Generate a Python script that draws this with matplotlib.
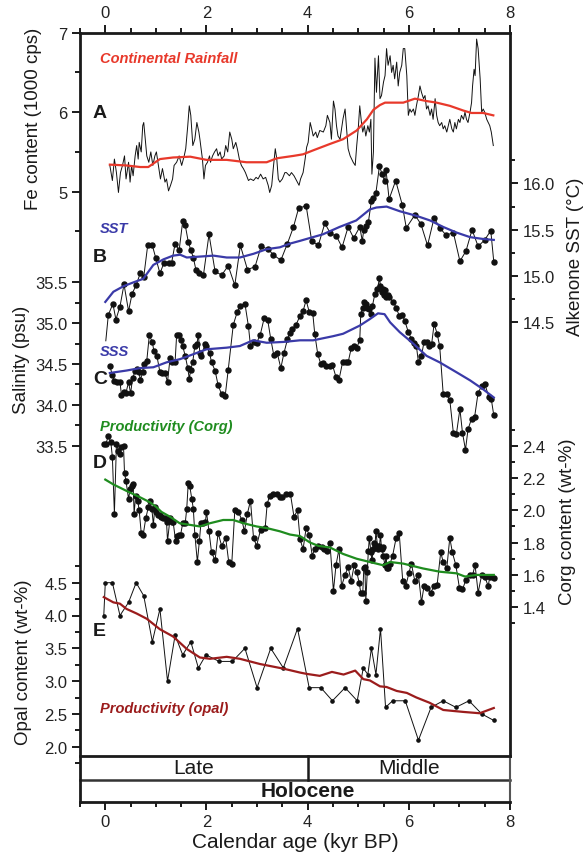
import numpy as np
import matplotlib
matplotlib.use("Agg")
import matplotlib.pyplot as plt
from matplotlib.ticker import FixedLocator, FormatStrFormatter

plt.rcParams['font.family'] = ['Liberation Sans', 'DejaVu Sans']

# ---------------- data ----------------
fe_age = [0.09,0.14,0.18,0.22,0.26,0.30,0.34,0.38,0.41,0.46,0.49,0.52,0.55,0.59,0.62,0.65,0.67,0.71,0.74,0.76,
          0.79,0.82,0.86,0.90,0.94,0.98,1.01,1.05,1.09,1.13,1.18,1.21,1.25,1.29,1.33,1.36,1.41,1.46,1.51,1.56,
          1.59,1.63,1.66,1.69,1.73,1.77,1.81,1.85,1.87,1.92,1.95,1.98,2.02,2.06,2.08,2.12,2.16,2.20,2.23,2.27,
          2.30,2.35,2.38,2.42,2.46,2.50,2.53,2.58,2.61,2.65,2.69,2.73,2.77,2.83,2.87,2.93,2.98,3.02,3.07,3.12,
          3.17,3.22,3.25,3.29,3.32,3.36,3.39,3.42,3.45,3.50,3.55,3.58,3.64,3.68,3.73,3.78,3.83,3.86,3.91,3.95,
          3.98,4.01,4.05,4.08,4.11,4.16,4.19,4.24,4.31,4.36,4.39,4.44,4.47,4.51,4.54,4.57,4.60,4.64,4.67,4.70,
          4.74,4.77,4.80,4.84,4.87,4.90,4.94,4.97,5.00,5.03,5.07,5.09,5.12,5.15,5.19,5.22,5.25,5.27,5.30,5.33,
          5.36,5.40,5.43,5.46,5.50,5.53,5.56,5.59,5.63,5.66,5.69,5.72,5.76,5.79,5.82,5.86,5.89,5.92,5.96,5.99,
          6.02,6.05,6.09,6.12,6.15,6.19,6.22,6.25,6.29,6.32,6.35,6.38,6.42,6.45,6.48,6.52,6.55,6.58,6.61,6.65,
          6.68,6.71,6.75,6.78,6.81,6.85,6.88,6.91,6.94,6.98,7.01,7.04,7.08,7.11,7.14,7.17,7.21,7.24,7.26,7.29,
          7.31,7.34,7.37,7.41,7.44,7.47,7.50,7.54,7.57,7.60,7.63,7.67]
fe_val = [5.33,5.14,5.41,5.24,4.99,5.24,5.33,5.45,5.16,5.37,5.12,5.33,5.20,5.45,5.58,5.41,5.62,5.50,5.83,5.87,
          5.66,5.45,5.37,5.50,5.33,5.45,5.50,5.33,5.16,5.29,5.12,5.16,5.01,5.08,5.16,5.33,5.37,5.45,5.33,5.45,
          5.54,5.83,6.08,5.96,5.58,5.66,5.87,5.75,5.66,5.41,5.16,5.33,5.37,5.45,5.37,5.45,5.50,5.54,5.45,5.50,
          5.41,5.45,5.58,5.50,5.75,5.66,5.54,5.62,5.54,5.41,5.33,5.29,5.24,5.14,5.16,5.14,5.18,5.16,5.22,5.16,
          5.18,5.08,4.99,5.08,5.29,5.54,5.41,5.16,5.12,5.16,5.24,5.24,5.20,5.24,5.20,5.14,5.08,5.16,5.24,5.41,
          5.56,5.62,5.87,5.79,5.70,5.75,5.68,5.77,5.75,5.83,5.96,5.87,5.66,6.14,6.04,5.83,5.70,5.66,5.79,5.92,
          6.04,5.79,5.54,5.45,5.41,5.37,5.33,5.58,5.79,6.08,5.83,5.75,5.83,5.70,5.83,5.75,5.91,5.22,5.50,6.68,
          6.25,6.71,6.17,6.21,6.38,6.46,6.80,6.59,6.71,6.50,6.59,6.42,6.63,6.33,6.50,6.59,6.80,6.80,6.46,5.96,
          6.04,6.00,6.04,5.96,6.08,6.21,6.33,6.25,6.17,6.21,6.04,6.08,5.96,6.04,5.91,6.17,5.96,5.87,5.83,5.87,
          5.79,5.83,5.75,5.83,5.91,5.79,5.75,5.87,5.79,5.91,5.87,5.96,5.91,6.00,5.91,5.87,6.00,6.12,6.33,6.54,
          6.46,6.92,6.80,6.42,6.00,6.04,6.00,5.91,5.87,5.83,5.75,5.58]

rain_age = [0.09,0.41,0.69,0.85,1.08,1.34,1.68,2.00,2.40,2.79,3.19,3.39,3.72,3.91,4.11,4.44,4.70,4.97,5.17,
            5.30,5.43,5.53,5.89,6.12,6.35,6.55,6.81,7.08,7.24,7.47,7.67]
rain_val = [5.34,5.33,5.31,5.31,5.41,5.43,5.44,5.40,5.40,5.37,5.37,5.42,5.45,5.47,5.52,5.60,5.66,5.77,5.91,
            6.03,6.09,6.12,6.12,6.17,6.14,6.12,6.08,6.02,5.99,5.99,5.96]

sst_age = [0.01,0.06,0.15,0.21,0.29,0.37,0.46,0.53,0.61,0.69,0.76,0.84,0.93,1.00,1.08,1.16,1.25,1.31,1.38,1.46,
           1.53,1.58,1.64,1.69,1.74,1.79,1.86,1.94,2.05,2.17,2.30,2.43,2.56,2.67,2.81,2.96,3.08,3.22,3.32,3.47,
           3.60,3.72,3.82,3.97,4.08,4.21,4.34,4.45,4.57,4.68,4.80,4.91,5.03,5.08,5.11,5.16,5.20,5.26,5.30,5.35,
           5.42,5.47,5.52,5.55,5.61,5.74,5.87,5.95,6.12,6.24,6.37,6.50,6.61,6.74,6.88,7.01,7.13,7.25,7.37,7.50,
           7.62,7.68]
sst_val = [14.30,14.58,14.70,14.53,14.67,14.91,14.62,14.81,14.90,15.03,14.99,15.34,15.33,15.19,15.03,15.14,15.14,15.14,15.35,15.28,
           15.59,15.55,15.37,15.28,15.20,15.07,15.03,15.01,15.45,15.05,15.01,15.11,14.90,15.33,15.07,15.10,15.32,15.29,15.23,15.17,
           15.35,15.53,15.73,15.76,15.38,15.33,15.57,15.46,15.43,15.31,15.53,15.41,15.53,15.38,15.50,15.54,15.58,15.81,15.84,15.90,
           16.19,16.10,16.03,16.14,15.83,16.03,15.77,15.52,15.66,15.56,15.33,15.63,15.52,15.44,15.47,15.16,15.27,15.50,15.32,15.39,
           15.49,15.15]

sst_s_age = [0.00,0.16,0.36,0.55,0.75,0.95,1.15,1.34,1.48,1.61,1.87,2.14,2.40,2.66,2.93,3.19,3.45,3.65,3.85,4.04,
             4.30,4.63,4.96,5.23,5.36,5.56,5.82,6.15,6.42,6.68,6.94,7.21,7.47,7.68]
sst_s_val = [14.72,14.83,14.89,14.93,14.97,15.12,15.18,15.22,15.23,15.20,15.21,15.22,15.20,15.20,15.24,15.29,15.31,15.35,15.38,15.41,
             15.45,15.53,15.60,15.72,15.74,15.75,15.70,15.65,15.60,15.53,15.47,15.42,15.40,15.39]

sss_age = [0.09,0.14,0.18,0.24,0.29,0.32,0.36,0.41,0.46,0.50,0.54,0.59,0.62,0.67,0.69,0.74,0.76,0.82,0.87,0.93,
           0.96,1.02,1.08,1.13,1.18,1.23,1.28,1.32,1.38,1.41,1.46,1.50,1.53,1.58,1.63,1.66,1.69,1.73,1.77,1.81,
           1.84,1.87,1.90,1.97,2.00,2.06,2.10,2.17,2.23,2.30,2.37,2.43,2.53,2.61,2.67,2.76,2.83,2.87,2.93,2.99,
           3.06,3.14,3.21,3.27,3.33,3.40,3.47,3.53,3.60,3.65,3.70,3.77,3.85,3.91,3.97,4.03,4.10,4.14,4.20,4.26,
           4.31,4.37,4.44,4.49,4.56,4.62,4.69,4.76,4.80,4.86,4.92,4.97,5.03,5.05,5.09,5.11,5.15,5.18,5.22,5.25,
           5.28,5.33,5.38,5.42,5.44,5.46,5.48,5.50,5.53,5.55,5.58,5.61,5.69,5.75,5.81,5.87,5.92,5.99,6.05,6.10,
           6.15,6.19,6.25,6.30,6.35,6.40,6.45,6.50,6.56,6.61,6.68,6.75,6.81,6.88,6.94,7.01,7.06,7.12,7.17,7.24,
           7.30,7.37,7.44,7.50,7.58,7.63,7.68]
sss_val = [34.48,34.36,34.29,34.28,34.28,34.12,34.16,34.15,34.28,34.14,34.33,34.41,34.44,34.40,34.30,34.40,34.50,34.54,34.85,34.77,
           34.66,34.60,34.40,34.39,34.39,34.28,34.57,34.53,34.53,34.85,34.85,34.79,34.72,34.60,34.45,34.32,34.43,34.53,34.72,34.74,
           34.86,34.63,34.60,34.74,34.72,34.64,34.52,34.42,34.24,34.13,34.11,34.43,34.98,35.14,35.21,35.24,34.96,34.72,34.77,34.76,
           34.85,35.06,35.04,34.81,34.61,34.63,34.45,34.63,34.80,34.88,34.93,34.98,35.09,35.15,35.28,35.14,35.13,34.87,34.62,34.50,
           34.51,34.47,34.47,34.49,34.34,34.31,34.52,34.52,34.52,34.69,34.72,34.70,34.79,35.11,35.19,35.26,35.24,35.19,35.17,35.11,
           35.21,35.36,35.42,35.55,35.45,35.38,35.42,35.34,35.41,35.32,35.34,35.32,35.26,35.19,35.09,35.10,35.03,34.89,34.81,34.76,
           34.72,34.52,34.60,34.77,34.77,34.72,34.74,34.99,34.87,34.72,34.13,34.13,34.06,33.66,33.64,33.95,33.66,33.45,33.70,33.83,
           33.85,34.15,34.23,34.26,34.10,34.07,33.87]

sss_s_age = [0.09,0.42,0.69,0.95,1.21,1.48,1.74,2.00,2.40,2.66,2.92,3.19,3.52,3.85,4.11,4.50,4.70,5.03,5.23,5.39,
             5.52,5.63,5.82,6.05,6.35,6.61,6.94,7.21,7.47,7.68]
sss_s_val = [34.39,34.42,34.45,34.46,34.52,34.56,34.62,34.68,34.70,34.72,34.79,34.76,34.77,34.79,34.79,34.84,34.87,34.97,35.05,35.12,
             35.11,35.01,34.89,34.77,34.60,34.52,34.40,34.30,34.19,34.09]

corg_age = [-0.03,0.01,0.06,0.11,0.14,0.18,0.22,0.26,0.29,0.32,0.36,0.38,0.41,0.46,0.49,0.52,0.55,0.57,0.60,0.64,
            0.67,0.71,0.75,0.80,0.85,0.88,0.92,0.95,0.98,1.01,1.05,1.08,1.11,1.15,1.18,1.21,1.23,1.28,1.31,1.34,
            1.39,1.42,1.46,1.49,1.53,1.58,1.61,1.64,1.67,1.71,1.74,1.77,1.82,1.86,1.89,1.94,1.98,2.00,2.05,2.10,
            2.17,2.23,2.30,2.38,2.44,2.50,2.56,2.63,2.70,2.75,2.81,2.87,2.93,2.99,3.07,3.16,3.20,3.25,3.32,3.39,
            3.45,3.50,3.57,3.66,3.73,3.80,3.85,3.91,3.97,4.03,4.09,4.14,4.21,4.28,4.33,4.39,4.44,4.51,4.56,4.62,
            4.67,4.74,4.80,4.86,4.92,4.97,5.02,5.05,5.09,5.11,5.13,5.15,5.18,5.20,5.22,5.25,5.27,5.30,5.31,5.33,
            5.35,5.38,5.40,5.42,5.44,5.46,5.48,5.49,5.53,5.55,5.57,5.59,5.63,5.68,5.75,5.81,5.88,5.94,6.00,6.05,
            6.12,6.19,6.25,6.30,6.36,6.43,6.50,6.56,6.63,6.68,6.75,6.81,6.86,6.93,7.00,7.06,7.13,7.21,7.26,7.31,
            7.37,7.44,7.50,7.57,7.60,7.68]
corg_val = [2.41,2.41,2.46,2.42,2.33,1.98,2.41,2.37,2.35,2.39,2.40,2.23,2.18,2.07,2.13,2.15,2.16,1.98,2.09,2.06,
            2.00,1.86,1.85,1.95,2.02,2.06,2.01,1.91,2.02,1.99,1.97,1.97,1.96,1.95,1.95,1.93,1.81,1.95,1.93,1.93,
            1.81,1.84,1.85,1.85,1.92,1.92,2.01,2.17,2.15,2.07,2.01,1.85,1.68,1.81,1.92,1.92,1.93,1.99,1.87,1.74,
            1.69,1.86,1.78,1.83,1.68,1.67,2.00,1.99,1.94,1.87,1.98,2.06,1.83,1.78,1.88,1.89,2.04,2.09,2.10,2.10,
            2.08,2.08,2.10,2.10,1.96,2.00,1.82,1.76,1.89,1.85,1.72,1.76,1.78,1.77,1.76,1.75,1.80,1.50,1.66,1.76,
            1.53,1.60,1.65,1.56,1.66,1.62,1.55,1.49,1.49,1.64,1.65,1.44,1.62,1.75,1.83,1.74,1.69,1.76,1.80,1.78,
            1.87,1.78,1.76,1.78,1.85,1.76,1.77,1.72,1.66,1.72,1.64,1.64,1.67,1.72,1.83,1.86,1.56,1.53,1.61,1.67,
            1.56,1.60,1.43,1.53,1.52,1.49,1.53,1.54,1.74,1.68,1.64,1.83,1.74,1.66,1.52,1.51,1.57,1.60,1.60,1.66,
            1.49,1.60,1.59,1.53,1.59,1.58]

corg_s_age = [0.00,0.16,0.42,0.69,0.88,1.01,1.11,1.28,1.47,1.67,1.87,2.07,2.33,2.53,2.73,2.99,3.19,3.45,3.65,3.85,
              4.05,4.21,4.44,4.70,4.97,5.23,5.49,5.63,5.89,6.28,6.61,6.94,7.11,7.34,7.68]
corg_s_val = [2.19,2.16,2.12,2.08,2.05,2.02,1.99,1.96,1.92,1.91,1.90,1.92,1.94,1.94,1.92,1.90,1.89,1.87,1.85,1.84,
              1.80,1.78,1.77,1.73,1.70,1.68,1.66,1.68,1.67,1.64,1.62,1.61,1.59,1.60,1.60]

opal_age = [-0.03,0.00,0.14,0.29,0.46,0.61,0.76,0.93,1.08,1.23,1.38,1.53,1.69,1.84,1.99,2.25,2.51,2.76,3.00,3.27,
            3.52,3.80,4.03,4.26,4.49,4.74,4.98,5.10,5.19,5.26,5.35,5.44,5.54,5.68,5.93,6.19,6.44,6.68,6.93,7.19,
            7.44,7.68]
opal_val = [4.00,4.50,4.50,4.00,4.20,4.50,4.30,3.60,4.10,3.00,3.70,3.40,3.60,3.20,3.40,3.30,3.30,3.50,2.90,3.50,
            3.20,3.80,2.90,2.90,2.70,2.90,2.70,3.20,3.10,3.50,3.10,3.80,2.60,2.70,2.70,2.10,2.60,2.70,2.60,2.70,
            2.50,2.40]

opal_s_age = [-0.03,0.16,0.29,0.42,0.62,0.82,1.08,1.34,1.61,1.87,2.07,2.40,2.66,3.06,3.52,3.85,3.98,4.24,4.48,4.71,
              4.94,5.10,5.23,5.43,5.56,5.76,5.96,6.15,6.41,6.68,6.81,7.08,7.40,7.54,7.68]
opal_s_val = [4.28,4.20,4.18,4.10,4.03,3.95,3.79,3.68,3.49,3.36,3.34,3.37,3.34,3.26,3.19,3.13,3.11,3.08,3.14,3.10,
              3.16,3.03,3.01,2.92,2.91,2.85,2.82,2.75,2.67,2.56,2.55,2.53,2.51,2.55,2.59]

x_major = [0, 2, 4, 6, 8]

# ---------------- layout helpers ----------------
W, H = 585, 854
fig = plt.figure(figsize=(W / 100, H / 100), dpi=100)

def fx(px):
    return px / W

def fy(py):
    return 1 - py / H

L, R = 80, 510
TOP, BOT = 34, 803
INK = '#1a1a1a'
TICKC = '#222222'

frame = fig.add_axes([fx(L), fy(BOT), (R - L) / W, (BOT - TOP) / H])
frame.set_xlim(-0.5, 8)
frame.set_ylim(0, 1)
frame.set_facecolor('none')
frame.set_yticks([])
frame.xaxis.set_major_locator(FixedLocator(x_major))
frame.xaxis.set_minor_locator(FixedLocator(np.arange(-0.5, 8.01, 0.5)))
frame.tick_params(axis='x', which='both', top=True, bottom=True, labeltop=True, labelbottom=True,
                  direction='out', width=1.4, color=INK, labelsize=12, labelcolor=TICKC)
frame.tick_params(axis='x', which='major', length=6, pad=3)
frame.tick_params(axis='x', which='minor', length=3.5)
for s in frame.spines.values():
    s.set_linewidth(2)
    s.set_color(INK)
yb1 = (BOT - 757) / (BOT - TOP)
yb2 = (BOT - 781) / (BOT - TOP)
frame.spines['right'].set_bounds(yb1, 1)
frame.plot([-0.5, 8], [yb1, yb1], color=INK, lw=2, clip_on=False)
frame.plot([-0.5, 8], [yb2, yb2], color='#333333', lw=1.8, clip_on=False)
frame.plot([4, 4], [yb2, yb1], color=INK, lw=1.8, clip_on=False)
frame.plot([8, 8], [0, yb1], color='#555555', lw=1.5, clip_on=False)
frame.text(1.75, (yb1 + yb2) / 2, 'Late', ha='center', va='center', fontsize=15, color=INK)
frame.text(6.0, (yb1 + yb2) / 2, 'Middle', ha='center', va='center', fontsize=15, color=INK)
frame.text(4.0, yb2 / 2, 'Holocene', ha='center', va='center', fontsize=15, fontweight='bold', color=INK)
frame.set_xlabel('Calendar age (kyr BP)', fontsize=15, labelpad=2, color=INK)


def panel(v_top, py_top, v_bot, py_bot, side, major, minor, fmt):
    ax = fig.add_axes([fx(L), fy(py_bot), (R - L) / W, (py_bot - py_top) / H])
    ax.set_facecolor('none')
    ax.set_xlim(-0.5, 8)
    ax.set_ylim(v_bot, v_top)
    for s in ax.spines.values():
        s.set_visible(False)
    ax.set_xticks([])
    ax.yaxis.set_major_locator(FixedLocator(major))
    ax.yaxis.set_minor_locator(FixedLocator(minor))
    ax.yaxis.set_major_formatter(FormatStrFormatter(fmt))
    if side == 'right':
        ax.yaxis.tick_right()
    ax.tick_params(axis='y', which='both', direction='out', width=1.4, color=INK,
                   labelsize=12, labelcolor=TICKC, pad=3)
    ax.tick_params(axis='y', which='major', length=6)
    ax.tick_params(axis='y', which='minor', length=3.5)
    return ax

ax_fe = panel(7.0, 33.7, 4.5, 232.4, 'left', [5, 6, 7], [4.5, 5.5, 6.5], '%d')
ax_sst = panel(16.25, 161.3, 14.5, 323.3, 'right', [14.5, 15.0, 15.5, 16.0],
               [14.75, 15.25, 15.75, 16.25], '%.1f')
ax_sss = panel(35.5, 283.3, 33.5, 446.7, 'left', [33.5, 34.0, 34.5, 35.0, 35.5],
               [33.75, 34.25, 34.75, 35.25], '%.1f')
ax_corg = panel(2.5, 430.5, 1.3, 624.4, 'right', [1.4, 1.6, 1.8, 2.0, 2.2, 2.4],
                [1.3, 1.5, 1.7, 1.9, 2.1, 2.3, 2.5], '%.1f')
ax_opal = panel(4.75, 567.3, 1.75, 764.1, 'left', [2.0, 2.5, 3.0, 3.5, 4.0, 4.5],
                [1.75, 2.25, 2.75, 3.25, 3.75, 4.25, 4.75], '%.1f')

RED = '#e8392b'
BLUE = '#3a3aa8'
GREEN = '#1f8c1f'
DRED = '#9b1c1c'

ax_fe.plot(fe_age, fe_val, color='#111111', lw=0.7, clip_on=False)
ax_fe.plot(rain_age, rain_val, color=RED, lw=1.6, clip_on=False)

ax_sst.plot(sst_age[1:], sst_val[1:], color='#111111', lw=0.7, marker='o', ms=3.6, clip_on=False)
ax_sst.plot(sst_age[:2], sst_val[:2], color='#111111', lw=0.7, clip_on=False)
ax_sst.plot(sst_s_age, sst_s_val, color=BLUE, lw=1.6, clip_on=False)

ax_sss.plot(sss_age, sss_val, color='#111111', lw=0.7, marker='o', ms=3.6, clip_on=False)
ax_sss.plot(sss_s_age, sss_s_val, color=BLUE, lw=1.6, clip_on=False)

ax_corg.plot(corg_age, corg_val, color='#111111', lw=0.7, marker='o', ms=3.6, clip_on=False)
ax_corg.plot(corg_s_age, corg_s_val, color=GREEN, lw=1.6, clip_on=False)

ax_opal.plot(opal_age, opal_val, color='#111111', lw=0.7, marker='o', ms=2.3, clip_on=False)
ax_opal.plot(opal_s_age, opal_s_val, color=DRED, lw=1.6, clip_on=False)

# ---------------- annotations ----------------
def lab(px, py, s, color, size=10.5):
    fig.text(fx(px), fy(py), s, color=color, fontsize=size, fontweight='bold', style='italic',
             ha='left', va='center')

lab(100, 59, 'Continental Rainfall', RED)
lab(100, 229, 'SST', BLUE)
lab(100, 352, 'SSS', BLUE)
lab(100, 427, 'Productivity (Corg)', GREEN)
lab(100, 709, 'Productivity (opal)', DRED)

for letter, py in [('A', 114), ('B', 258), ('C', 380), ('D', 463), ('E', 632)]:
    fig.text(fx(93), fy(py), letter, fontsize=14, fontweight='bold', color=INK, ha='left', va='center')

def ylab(px, py, s):
    fig.text(fx(px), fy(py), s, rotation=90, fontsize=13.5, color=INK, ha='center', va='center')

ylab(34, 119, 'Fe content (1000 cps)')
ylab(22, 360, 'Salinity (psu)')
ylab(24, 662, 'Opal content (wt-%)')
ylab(575, 257, 'Alkenone SST (°C)')
ylab(567, 522, 'Corg content (wt-%)')

fig.savefig('out.png', dpi=100)
